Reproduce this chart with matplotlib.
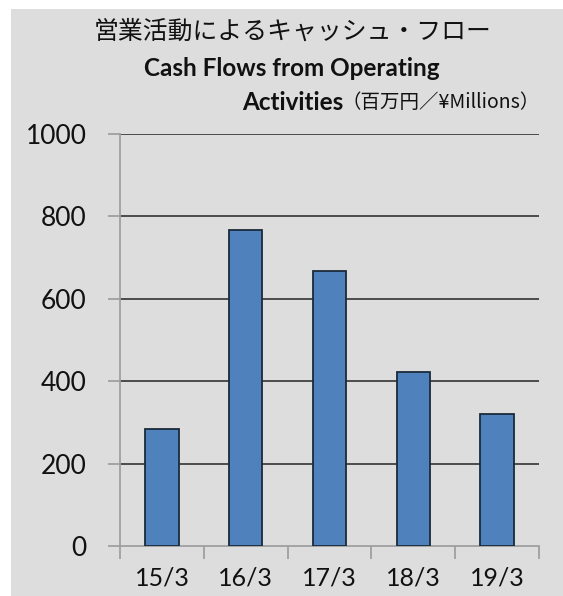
import matplotlib.pyplot as plt
import matplotlib.patches as patches
import numpy as np

plt.rcParams['font.family'] = ['Lato', 'Noto Sans CJK JP', 'DejaVu Sans']

# data
years = ['15/3', '16/3', '17/3', '18/3', '19/3']
cash_flow = [284, 767, 667, 422, 320]
yticks = [0, 200, 400, 600, 800, 1000]

bg = '#dddddd'
bar_color = '#4f81bd'

fig = plt.figure(figsize=(5.63, 5.96), dpi=100)
fig.patch.set_facecolor(bg)
# white strips on top/left like the screenshot
fig.patches.append(patches.Rectangle((0, 0), 11/563, 1, transform=fig.transFigure,
                                     facecolor='white', edgecolor='none'))
fig.patches.append(patches.Rectangle((0, 1 - 9/596), 1, 9/596, transform=fig.transFigure,
                                     facecolor='white', edgecolor='none'))

ax = fig.add_axes([120/563, 1 - 546/596, 419/563, 412/596])
ax.set_facecolor(bg)

x = np.arange(len(years))
ax.bar(x, cash_flow, width=0.4, color=bar_color, edgecolor='#1c2a3a', linewidth=1.3, zorder=3)

ax.set_xlim(-0.5, len(years) - 0.5)
ax.set_ylim(0, 1000)
ax.set_yticks(yticks)
ax.set_yticklabels([str(v) for v in yticks], fontsize=19, color='#111111')
for v in yticks[1:]:
    ax.axhline(v, color='#404040', linewidth=1.3, zorder=1)

ax.set_xticks(x)
ax.set_xticklabels(years, fontsize=18, color='#111111')
ax.set_xticks(np.arange(len(years) + 1) - 0.5, minor=True)
ax.tick_params(axis='x', which='major', length=0, pad=15)
ax.tick_params(axis='x', which='minor', length=9, color='#a0a0a0', width=1.3)
ax.tick_params(axis='y', length=9, color='#a0a0a0', width=1.3, pad=15)

for s in ['top', 'right']:
    ax.spines[s].set_visible(False)
for s in ['left', 'bottom']:
    ax.spines[s].set_color('#a0a0a0')
    ax.spines[s].set_linewidth(1.3)

# titles
fig.text(293/563, 1 - 32/596, '営業活動によるキャッシュ・フロー', ha='center', va='center',
         fontsize=17.9, family=['Noto Sans CJK JP', 'DejaVu Sans'], color='#111111')
fig.text(292/563, 1 - 69/596, 'Cash Flows from Operating', ha='center', va='center',
         fontsize=17.5, fontweight='bold', color='#111111')
fig.text(343/563, 1 - 102/596, 'Activities', ha='right', va='center',
         fontsize=17.5, fontweight='bold', color='#111111')
fig.text(540/563, 1 - 102/596, '（百万円／¥Millions）', ha='right', va='center',
         fontsize=14, family=['Noto Sans CJK JP', 'DejaVu Sans'], color='#111111')

fig.savefig('out.png', dpi=100, facecolor=fig.get_facecolor())
